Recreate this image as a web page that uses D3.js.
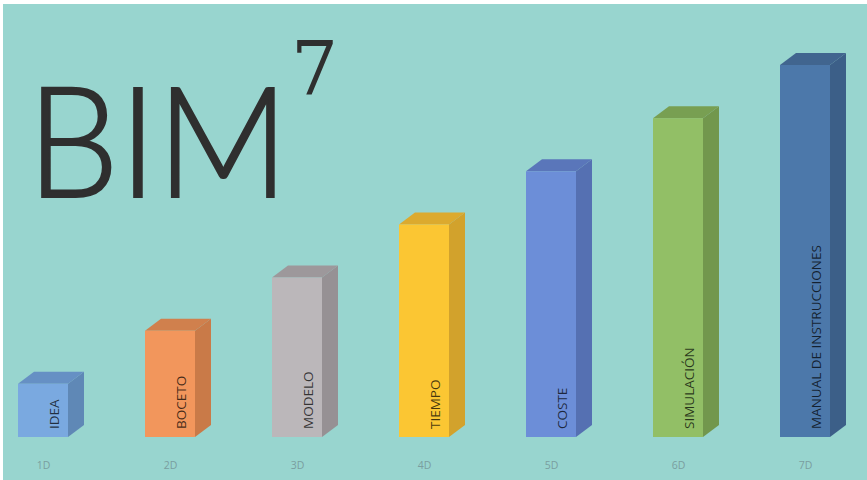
<!DOCTYPE html>
<meta charset="utf-8">
<style>
    body { margin: 0; background: #fff; }
    svg { display: block; }
    .tick-label { font: 10.5px "Open Sans", sans-serif; fill: #7a9e9f; }
    .bar-label { font: 13.5px "Open Sans", sans-serif; fill: #000; fill-opacity: 0.72; }
</style>
<body>
<script src="https://cdn.jsdelivr.net/npm/d3@7"></script>
<script>
    var categories = ["1D", "2D", "3D", "4D", "5D", "6D", "7D"];
    var values = [1, 2, 3, 4, 5, 6, 7];
    var barNames = ["IDEA", "BOCETO", "MODELO", "TIEMPO", "COSTE", "SIMULACIÓN", "MANUAL DE INSTRUCCIONES"];
    var frontColors = ["#7aa9e0", "#f2965c", "#bbb7ba", "#fbc633", "#6c8ed8", "#92bf66", "#4c78aa"];
    var sideColors  = ["#5f88b6", "#c97a48", "#969194", "#d2a22c", "#5570b2", "#72974d", "#3c5f88"];
    var topColors   = ["#6690c4", "#d0804d", "#9d989b", "#dcaa2e", "#5a76ba", "#789f52", "#41658f"];

    var width = 867, height = 480;
    var barW = 50, depthX = 16, depthY = 12;

    var svg = d3.select("body").append("svg")
        .attr("width", width)
        .attr("height", height);

    svg.append("rect")
        .attr("x", 3).attr("y", 4)
        .attr("width", width - 3).attr("height", height - 4)
        .attr("fill", "#98d5cf");

    var x = d3.scalePoint()
        .domain(categories)
        .range([43, 805]);

    var y = d3.scaleLinear()
        .domain([0, 7])
        .range([437, 65]);

    // title: measure natural width, then squeeze horizontally to fit
    var title = svg.append("text")
        .attr("fill", "#2f2f2f")
        .attr("stroke", "#2f2f2f")
        .attr("stroke-width", 2.2)
        .style("font", "300 155px Lato, sans-serif")
        .text("BIM");
    var titleW = title.node().getComputedTextLength();
    title.attr("transform", "translate(27,197) scale(" + (262 / titleW) + ",1)");

    svg.append("text")
        .attr("x", 291).attr("y", 95)
        .attr("fill", "#2f2f2f")
        .style("font", "74px 'DejaVu Serif', serif")
        .text("7");

    var data = categories.map(function (c, i) {
        return {cat: c, value: values[i], name: barNames[i], front: frontColors[i], side: sideColors[i], top: topColors[i]};
    });

    var bars = svg.selectAll("g.bar")
        .data(data)
        .enter().append("g")
        .attr("class", "bar");

    // side face
    bars.append("path")
        .attr("fill", function (d) { return d.side; })
        .attr("d", function (d) {
            var x1 = x(d.cat) + barW / 2, y0 = y(0), y1 = y(d.value);
            return "M" + x1 + "," + y1 + "L" + (x1 + depthX) + "," + (y1 - depthY) +
                "L" + (x1 + depthX) + "," + (y0 - depthY) + "L" + x1 + "," + y0 + "Z";
        });

    // top face
    bars.append("path")
        .attr("fill", function (d) { return d.top; })
        .attr("d", function (d) {
            var x0 = x(d.cat) - barW / 2, x1 = x(d.cat) + barW / 2, y1 = y(d.value);
            return "M" + x0 + "," + y1 + "L" + (x0 + depthX) + "," + (y1 - depthY) +
                "L" + (x1 + depthX) + "," + (y1 - depthY) + "L" + x1 + "," + y1 + "Z";
        });

    // front face
    bars.append("rect")
        .attr("x", function (d) { return x(d.cat) - barW / 2; })
        .attr("y", function (d) { return y(d.value); })
        .attr("width", barW)
        .attr("height", function (d) { return y(0) - y(d.value); })
        .attr("fill", function (d) { return d.front; });

    bars.append("text")
        .attr("class", "bar-label")
        .attr("transform", function (d) {
            return "translate(" + (x(d.cat) - barW / 2 + 41) + "," + (y(0) - 8) + ") rotate(-90)";
        })
        .text(function (d) { return d.name; });

    var xAxis = d3.axisBottom(x).tickSize(0).tickPadding(0);
    var axisG = svg.append("g")
        .attr("transform", "translate(0,469)")
        .call(xAxis);
    axisG.select(".domain").remove();
    axisG.selectAll("text")
        .attr("class", "tick-label")
        .attr("fill", null)
        .attr("dy", null)
        .attr("y", 0);
</script>
